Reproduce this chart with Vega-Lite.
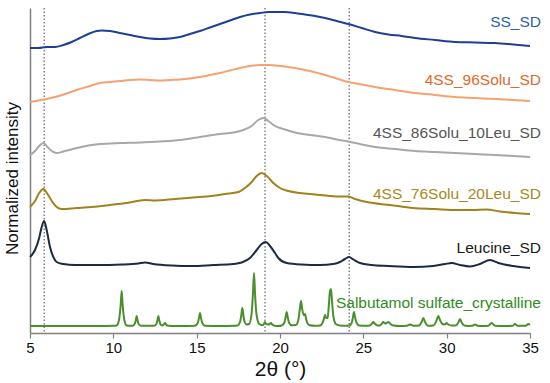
{
  "$schema": "https://vega.github.io/schema/vega-lite/v6.json",
  "autosize": "none",
  "width": 500,
  "height": 325,
  "padding": {"left": 30, "top": 8, "right": 20, "bottom": 50},
  "background": "white",
  "config": {
    "view": {"stroke": null},
    "font": "Liberation Sans",
    "axis": {"grid": false, "labelFont": "Liberation Sans", "titleFont": "Liberation Sans", "titleFontWeight": "normal"}
  },
  "datasets": {
    "curves": [
      {"s": "SS_SD", "t": 5, "v": 285}, {"s": "SS_SD", "t": 5.5, "v": 285}, {"s": "SS_SD", "t": 6, "v": 286}, {"s": "SS_SD", "t": 6.5, "v": 286},
      {"s": "SS_SD", "t": 7, "v": 288}, {"s": "SS_SD", "t": 7.5, "v": 291}, {"s": "SS_SD", "t": 8, "v": 295}, {"s": "SS_SD", "t": 8.5, "v": 299},
      {"s": "SS_SD", "t": 9, "v": 302}, {"s": "SS_SD", "t": 9.3, "v": 302.5}, {"s": "SS_SD", "t": 9.8, "v": 302}, {"s": "SS_SD", "t": 10.4, "v": 300},
      {"s": "SS_SD", "t": 11, "v": 298}, {"s": "SS_SD", "t": 11.6, "v": 296}, {"s": "SS_SD", "t": 12.2, "v": 294.5}, {"s": "SS_SD", "t": 12.8, "v": 294},
      {"s": "SS_SD", "t": 13.4, "v": 294.5}, {"s": "SS_SD", "t": 14, "v": 296}, {"s": "SS_SD", "t": 14.6, "v": 299}, {"s": "SS_SD", "t": 15.2, "v": 302},
      {"s": "SS_SD", "t": 15.8, "v": 305.5}, {"s": "SS_SD", "t": 16.4, "v": 309}, {"s": "SS_SD", "t": 17, "v": 312.5}, {"s": "SS_SD", "t": 17.6, "v": 316},
      {"s": "SS_SD", "t": 18.2, "v": 318.5}, {"s": "SS_SD", "t": 18.8, "v": 320}, {"s": "SS_SD", "t": 19.3, "v": 321}, {"s": "SS_SD", "t": 19.7, "v": 321},
      {"s": "SS_SD", "t": 20.3, "v": 321}, {"s": "SS_SD", "t": 20.9, "v": 320}, {"s": "SS_SD", "t": 21.5, "v": 318.5}, {"s": "SS_SD", "t": 22.1, "v": 317},
      {"s": "SS_SD", "t": 22.7, "v": 315}, {"s": "SS_SD", "t": 23.4, "v": 312}, {"s": "SS_SD", "t": 24.1, "v": 309}, {"s": "SS_SD", "t": 24.9, "v": 305},
      {"s": "SS_SD", "t": 25.7, "v": 301}, {"s": "SS_SD", "t": 26.5, "v": 298.5}, {"s": "SS_SD", "t": 27.3, "v": 297}, {"s": "SS_SD", "t": 28.1, "v": 295},
      {"s": "SS_SD", "t": 29.3, "v": 293}, {"s": "SS_SD", "t": 30.5, "v": 291}, {"s": "SS_SD", "t": 31.7, "v": 290.5}, {"s": "SS_SD", "t": 32.9, "v": 290},
      {"s": "SS_SD", "t": 34, "v": 288.5}, {"s": "SS_SD", "t": 35, "v": 287},

      {"s": "96Solu", "t": 5, "v": 231}, {"s": "96Solu", "t": 5.5, "v": 232.5}, {"s": "96Solu", "t": 6, "v": 234}, {"s": "96Solu", "t": 6.5, "v": 236},
      {"s": "96Solu", "t": 7.2, "v": 239.5}, {"s": "96Solu", "t": 7.8, "v": 243}, {"s": "96Solu", "t": 8.5, "v": 246.5}, {"s": "96Solu", "t": 9.2, "v": 250},
      {"s": "96Solu", "t": 9.8, "v": 251}, {"s": "96Solu", "t": 10.4, "v": 252}, {"s": "96Solu", "t": 11, "v": 253}, {"s": "96Solu", "t": 11.6, "v": 253.5},
      {"s": "96Solu", "t": 12.2, "v": 253}, {"s": "96Solu", "t": 12.8, "v": 252.5}, {"s": "96Solu", "t": 13.4, "v": 253}, {"s": "96Solu", "t": 14, "v": 253.5},
      {"s": "96Solu", "t": 14.6, "v": 254.5}, {"s": "96Solu", "t": 15.2, "v": 256}, {"s": "96Solu", "t": 15.8, "v": 258}, {"s": "96Solu", "t": 16.4, "v": 260},
      {"s": "96Solu", "t": 17, "v": 262.5}, {"s": "96Solu", "t": 17.6, "v": 265}, {"s": "96Solu", "t": 18.2, "v": 267}, {"s": "96Solu", "t": 18.8, "v": 268},
      {"s": "96Solu", "t": 19.3, "v": 268}, {"s": "96Solu", "t": 19.7, "v": 267.5}, {"s": "96Solu", "t": 20.3, "v": 266.5}, {"s": "96Solu", "t": 20.9, "v": 265},
      {"s": "96Solu", "t": 21.8, "v": 262}, {"s": "96Solu", "t": 22.7, "v": 258}, {"s": "96Solu", "t": 23.4, "v": 254.5}, {"s": "96Solu", "t": 24.1, "v": 251},
      {"s": "96Solu", "t": 24.9, "v": 248.5}, {"s": "96Solu", "t": 25.7, "v": 246}, {"s": "96Solu", "t": 26.9, "v": 243}, {"s": "96Solu", "t": 28.1, "v": 240},
      {"s": "96Solu", "t": 29.3, "v": 238}, {"s": "96Solu", "t": 30.5, "v": 236}, {"s": "96Solu", "t": 31.7, "v": 235}, {"s": "96Solu", "t": 32.9, "v": 234},
      {"s": "96Solu", "t": 34, "v": 233}, {"s": "96Solu", "t": 35, "v": 232},

      {"s": "86Solu", "t": 5, "v": 178}, {"s": "86Solu", "t": 5.3, "v": 182}, {"s": "86Solu", "t": 5.55, "v": 187}, {"s": "86Solu", "t": 5.8, "v": 190},
      {"s": "86Solu", "t": 6.05, "v": 186}, {"s": "86Solu", "t": 6.3, "v": 182}, {"s": "86Solu", "t": 6.6, "v": 180}, {"s": "86Solu", "t": 7, "v": 181.5},
      {"s": "86Solu", "t": 7.8, "v": 185}, {"s": "86Solu", "t": 8.5, "v": 187.5}, {"s": "86Solu", "t": 9.2, "v": 189}, {"s": "86Solu", "t": 10.4, "v": 190},
      {"s": "86Solu", "t": 11.6, "v": 190.5}, {"s": "86Solu", "t": 12.8, "v": 191.5}, {"s": "86Solu", "t": 14, "v": 193}, {"s": "86Solu", "t": 15.2, "v": 196},
      {"s": "86Solu", "t": 16.4, "v": 199}, {"s": "86Solu", "t": 17.2, "v": 200.5}, {"s": "86Solu", "t": 17.8, "v": 203}, {"s": "86Solu", "t": 18.3, "v": 207},
      {"s": "86Solu", "t": 18.7, "v": 213}, {"s": "86Solu", "t": 19, "v": 215}, {"s": "86Solu", "t": 19.3, "v": 212}, {"s": "86Solu", "t": 19.7, "v": 207},
      {"s": "86Solu", "t": 20.2, "v": 204}, {"s": "86Solu", "t": 20.9, "v": 200.5}, {"s": "86Solu", "t": 21.8, "v": 198}, {"s": "86Solu", "t": 22.7, "v": 196},
      {"s": "86Solu", "t": 23.4, "v": 193.5}, {"s": "86Solu", "t": 24.1, "v": 191.5}, {"s": "86Solu", "t": 24.9, "v": 188.5}, {"s": "86Solu", "t": 25.7, "v": 186},
      {"s": "86Solu", "t": 26.9, "v": 184}, {"s": "86Solu", "t": 28.1, "v": 182}, {"s": "86Solu", "t": 29.3, "v": 181}, {"s": "86Solu", "t": 30.5, "v": 180},
      {"s": "86Solu", "t": 31.7, "v": 179}, {"s": "86Solu", "t": 32.9, "v": 178}, {"s": "86Solu", "t": 34, "v": 177}, {"s": "86Solu", "t": 35, "v": 176},

      {"s": "76Solu", "t": 5, "v": 126}, {"s": "76Solu", "t": 5.3, "v": 132}, {"s": "76Solu", "t": 5.55, "v": 140}, {"s": "76Solu", "t": 5.8, "v": 144},
      {"s": "76Solu", "t": 6.05, "v": 139}, {"s": "76Solu", "t": 6.35, "v": 131}, {"s": "76Solu", "t": 6.6, "v": 126}, {"s": "76Solu", "t": 6.9, "v": 124},
      {"s": "76Solu", "t": 7.8, "v": 125}, {"s": "76Solu", "t": 8.7, "v": 126}, {"s": "76Solu", "t": 9.8, "v": 128}, {"s": "76Solu", "t": 10.8, "v": 130},
      {"s": "76Solu", "t": 11.9, "v": 133}, {"s": "76Solu", "t": 12.5, "v": 132.5}, {"s": "76Solu", "t": 13.7, "v": 134}, {"s": "76Solu", "t": 14.8, "v": 135.5},
      {"s": "76Solu", "t": 15.9, "v": 137}, {"s": "76Solu", "t": 16.7, "v": 139}, {"s": "76Solu", "t": 17.5, "v": 141}, {"s": "76Solu", "t": 17.9, "v": 145},
      {"s": "76Solu", "t": 18.3, "v": 151}, {"s": "76Solu", "t": 18.6, "v": 157}, {"s": "76Solu", "t": 18.9, "v": 160}, {"s": "76Solu", "t": 19.2, "v": 157},
      {"s": "76Solu", "t": 19.6, "v": 150}, {"s": "76Solu", "t": 20, "v": 145}, {"s": "76Solu", "t": 20.5, "v": 142}, {"s": "76Solu", "t": 21.2, "v": 140},
      {"s": "76Solu", "t": 22.1, "v": 138.5}, {"s": "76Solu", "t": 23, "v": 137}, {"s": "76Solu", "t": 23.7, "v": 136.5}, {"s": "76Solu", "t": 24.1, "v": 136.5},
      {"s": "76Solu", "t": 24.5, "v": 134}, {"s": "76Solu", "t": 25.2, "v": 131}, {"s": "76Solu", "t": 26.6, "v": 128}, {"s": "76Solu", "t": 28, "v": 125},
      {"s": "76Solu", "t": 29.3, "v": 124}, {"s": "76Solu", "t": 30.6, "v": 123}, {"s": "76Solu", "t": 31.5, "v": 123}, {"s": "76Solu", "t": 32.4, "v": 123.5},
      {"s": "76Solu", "t": 33.2, "v": 121.5}, {"s": "76Solu", "t": 34.1, "v": 120}, {"s": "76Solu", "t": 35, "v": 119},

      {"s": "Leu", "t": 5, "v": 76}, {"s": "Leu", "t": 5.3, "v": 83}, {"s": "Leu", "t": 5.55, "v": 95}, {"s": "Leu", "t": 5.7, "v": 106},
      {"s": "Leu", "t": 5.85, "v": 112}, {"s": "Leu", "t": 6, "v": 103}, {"s": "Leu", "t": 6.2, "v": 86}, {"s": "Leu", "t": 6.4, "v": 76},
      {"s": "Leu", "t": 6.6, "v": 71}, {"s": "Leu", "t": 7, "v": 69}, {"s": "Leu", "t": 7.7, "v": 68}, {"s": "Leu", "t": 9, "v": 68},
      {"s": "Leu", "t": 10.5, "v": 68.5}, {"s": "Leu", "t": 11.5, "v": 69.5}, {"s": "Leu", "t": 11.9, "v": 70.5}, {"s": "Leu", "t": 12.4, "v": 69},
      {"s": "Leu", "t": 13.5, "v": 67.5}, {"s": "Leu", "t": 14.7, "v": 67}, {"s": "Leu", "t": 16, "v": 68}, {"s": "Leu", "t": 17.2, "v": 69},
      {"s": "Leu", "t": 17.7, "v": 70.5}, {"s": "Leu", "t": 18.2, "v": 75}, {"s": "Leu", "t": 18.6, "v": 83}, {"s": "Leu", "t": 18.9, "v": 89},
      {"s": "Leu", "t": 19.15, "v": 91}, {"s": "Leu", "t": 19.4, "v": 87}, {"s": "Leu", "t": 19.7, "v": 80}, {"s": "Leu", "t": 19.9, "v": 75},
      {"s": "Leu", "t": 20.4, "v": 70}, {"s": "Leu", "t": 21.3, "v": 68.5}, {"s": "Leu", "t": 22.4, "v": 68}, {"s": "Leu", "t": 23.2, "v": 69},
      {"s": "Leu", "t": 23.6, "v": 71}, {"s": "Leu", "t": 23.9, "v": 74}, {"s": "Leu", "t": 24.15, "v": 76}, {"s": "Leu", "t": 24.4, "v": 73.5},
      {"s": "Leu", "t": 24.8, "v": 70}, {"s": "Leu", "t": 25.5, "v": 68}, {"s": "Leu", "t": 26.5, "v": 67}, {"s": "Leu", "t": 28, "v": 66},
      {"s": "Leu", "t": 29.2, "v": 67}, {"s": "Leu", "t": 29.9, "v": 69}, {"s": "Leu", "t": 30.3, "v": 70}, {"s": "Leu", "t": 30.8, "v": 68},
      {"s": "Leu", "t": 31.4, "v": 66.5}, {"s": "Leu", "t": 32, "v": 69}, {"s": "Leu", "t": 32.6, "v": 73}, {"s": "Leu", "t": 33.1, "v": 70},
      {"s": "Leu", "t": 34, "v": 67}, {"s": "Leu", "t": 35, "v": 65},

      {"s": "Sal", "t": 5, "v": 7}, {"s": "Sal", "t": 9, "v": 7}, {"s": "Sal", "t": 10, "v": 7.2},
      {"s": "Sal", "t": 10.2, "v": 7.5}, {"s": "Sal", "t": 10.35, "v": 14}, {"s": "Sal", "t": 10.44, "v": 28}, {"s": "Sal", "t": 10.5, "v": 42}, {"s": "Sal", "t": 10.56, "v": 28}, {"s": "Sal", "t": 10.65, "v": 14}, {"s": "Sal", "t": 10.8, "v": 7.5},
      {"s": "Sal", "t": 11, "v": 7.2},
      {"s": "Sal", "t": 11.15, "v": 7.3}, {"s": "Sal", "t": 11.28, "v": 9}, {"s": "Sal", "t": 11.35, "v": 13}, {"s": "Sal", "t": 11.4, "v": 17}, {"s": "Sal", "t": 11.45, "v": 13}, {"s": "Sal", "t": 11.52, "v": 9}, {"s": "Sal", "t": 11.65, "v": 7.3},
      {"s": "Sal", "t": 12.1, "v": 7.2},
      {"s": "Sal", "t": 12.45, "v": 7.3}, {"s": "Sal", "t": 12.58, "v": 9}, {"s": "Sal", "t": 12.65, "v": 13}, {"s": "Sal", "t": 12.7, "v": 17}, {"s": "Sal", "t": 12.75, "v": 13}, {"s": "Sal", "t": 12.82, "v": 9}, {"s": "Sal", "t": 12.92, "v": 7.5},
      {"s": "Sal", "t": 12.98, "v": 8}, {"s": "Sal", "t": 13.05, "v": 9}, {"s": "Sal", "t": 13.1, "v": 10}, {"s": "Sal", "t": 13.16, "v": 8.5}, {"s": "Sal", "t": 13.3, "v": 7.2},
      {"s": "Sal", "t": 13.8, "v": 7}, {"s": "Sal", "t": 14.5, "v": 7.1},
      {"s": "Sal", "t": 14.9, "v": 7.3}, {"s": "Sal", "t": 15.05, "v": 9.5}, {"s": "Sal", "t": 15.14, "v": 15}, {"s": "Sal", "t": 15.2, "v": 20}, {"s": "Sal", "t": 15.26, "v": 15}, {"s": "Sal", "t": 15.35, "v": 9.5}, {"s": "Sal", "t": 15.5, "v": 7.3},
      {"s": "Sal", "t": 16.5, "v": 7}, {"s": "Sal", "t": 17.2, "v": 7.2},
      {"s": "Sal", "t": 17.45, "v": 7.5}, {"s": "Sal", "t": 17.6, "v": 11}, {"s": "Sal", "t": 17.68, "v": 18}, {"s": "Sal", "t": 17.74, "v": 25}, {"s": "Sal", "t": 17.8, "v": 18}, {"s": "Sal", "t": 17.88, "v": 11}, {"s": "Sal", "t": 18, "v": 8.5},
      {"s": "Sal", "t": 18.15, "v": 9}, {"s": "Sal", "t": 18.3, "v": 20}, {"s": "Sal", "t": 18.38, "v": 40}, {"s": "Sal", "t": 18.44, "v": 60}, {"s": "Sal", "t": 18.5, "v": 40}, {"s": "Sal", "t": 18.58, "v": 20}, {"s": "Sal", "t": 18.75, "v": 9},
      {"s": "Sal", "t": 18.95, "v": 7.8}, {"s": "Sal", "t": 19.03, "v": 9}, {"s": "Sal", "t": 19.1, "v": 11}, {"s": "Sal", "t": 19.17, "v": 9}, {"s": "Sal", "t": 19.27, "v": 8.5}, {"s": "Sal", "t": 19.38, "v": 9}, {"s": "Sal", "t": 19.46, "v": 10}, {"s": "Sal", "t": 19.53, "v": 8.5}, {"s": "Sal", "t": 19.7, "v": 7.2},
      {"s": "Sal", "t": 19.9, "v": 7},
      {"s": "Sal", "t": 20.1, "v": 7.5}, {"s": "Sal", "t": 20.25, "v": 10}, {"s": "Sal", "t": 20.34, "v": 16}, {"s": "Sal", "t": 20.4, "v": 21}, {"s": "Sal", "t": 20.46, "v": 16}, {"s": "Sal", "t": 20.55, "v": 10}, {"s": "Sal", "t": 20.7, "v": 7.8},
      {"s": "Sal", "t": 20.95, "v": 8}, {"s": "Sal", "t": 21.1, "v": 13}, {"s": "Sal", "t": 21.19, "v": 24}, {"s": "Sal", "t": 21.26, "v": 32}, {"s": "Sal", "t": 21.33, "v": 24}, {"s": "Sal", "t": 21.42, "v": 18}, {"s": "Sal", "t": 21.5, "v": 19}, {"s": "Sal", "t": 21.58, "v": 13}, {"s": "Sal", "t": 21.75, "v": 8},
      {"s": "Sal", "t": 22.1, "v": 7.2},
      {"s": "Sal", "t": 22.4, "v": 7.5}, {"s": "Sal", "t": 22.55, "v": 10}, {"s": "Sal", "t": 22.65, "v": 15}, {"s": "Sal", "t": 22.7, "v": 18}, {"s": "Sal", "t": 22.78, "v": 15}, {"s": "Sal", "t": 22.86, "v": 15}, {"s": "Sal", "t": 22.94, "v": 30}, {"s": "Sal", "t": 23, "v": 42}, {"s": "Sal", "t": 23.06, "v": 44}, {"s": "Sal", "t": 23.12, "v": 32}, {"s": "Sal", "t": 23.2, "v": 17}, {"s": "Sal", "t": 23.35, "v": 9}, {"s": "Sal", "t": 23.6, "v": 7.5},
      {"s": "Sal", "t": 23.9, "v": 7.3},
      {"s": "Sal", "t": 24.15, "v": 7.5}, {"s": "Sal", "t": 24.3, "v": 10}, {"s": "Sal", "t": 24.38, "v": 16}, {"s": "Sal", "t": 24.44, "v": 21}, {"s": "Sal", "t": 24.5, "v": 16}, {"s": "Sal", "t": 24.6, "v": 10}, {"s": "Sal", "t": 24.75, "v": 7.5},
      {"s": "Sal", "t": 25.1, "v": 7.2},
      {"s": "Sal", "t": 25.4, "v": 7.5}, {"s": "Sal", "t": 25.52, "v": 9.5}, {"s": "Sal", "t": 25.6, "v": 11}, {"s": "Sal", "t": 25.68, "v": 9.5}, {"s": "Sal", "t": 25.85, "v": 7.5},
      {"s": "Sal", "t": 26, "v": 7.5}, {"s": "Sal", "t": 26.12, "v": 9.5}, {"s": "Sal", "t": 26.2, "v": 11}, {"s": "Sal", "t": 26.3, "v": 9.5}, {"s": "Sal", "t": 26.4, "v": 10}, {"s": "Sal", "t": 26.5, "v": 11}, {"s": "Sal", "t": 26.6, "v": 9.5}, {"s": "Sal", "t": 26.8, "v": 7.5},
      {"s": "Sal", "t": 27.2, "v": 7},
      {"s": "Sal", "t": 27.6, "v": 7.2}, {"s": "Sal", "t": 27.8, "v": 8.5}, {"s": "Sal", "t": 28, "v": 7.3},
      {"s": "Sal", "t": 28.35, "v": 7.5}, {"s": "Sal", "t": 28.5, "v": 11}, {"s": "Sal", "t": 28.6, "v": 15}, {"s": "Sal", "t": 28.7, "v": 11}, {"s": "Sal", "t": 28.85, "v": 7.5},
      {"s": "Sal", "t": 29, "v": 7.2},
      {"s": "Sal", "t": 29.2, "v": 7.5}, {"s": "Sal", "t": 29.38, "v": 12}, {"s": "Sal", "t": 29.5, "v": 17}, {"s": "Sal", "t": 29.6, "v": 13}, {"s": "Sal", "t": 29.75, "v": 9}, {"s": "Sal", "t": 29.9, "v": 8.5}, {"s": "Sal", "t": 30, "v": 10}, {"s": "Sal", "t": 30.1, "v": 8.5}, {"s": "Sal", "t": 30.3, "v": 7.5},
      {"s": "Sal", "t": 30.55, "v": 7.5}, {"s": "Sal", "t": 30.7, "v": 10.5}, {"s": "Sal", "t": 30.8, "v": 14}, {"s": "Sal", "t": 30.9, "v": 10.5}, {"s": "Sal", "t": 31.05, "v": 7.5},
      {"s": "Sal", "t": 31.3, "v": 7.1},
      {"s": "Sal", "t": 31.55, "v": 7.2}, {"s": "Sal", "t": 31.7, "v": 8.5}, {"s": "Sal", "t": 31.85, "v": 7.2},
      {"s": "Sal", "t": 32.2, "v": 7},
      {"s": "Sal", "t": 32.5, "v": 7.3}, {"s": "Sal", "t": 32.7, "v": 10}, {"s": "Sal", "t": 32.9, "v": 7.3},
      {"s": "Sal", "t": 33.4, "v": 7},
      {"s": "Sal", "t": 33.95, "v": 7.2}, {"s": "Sal", "t": 34.1, "v": 9}, {"s": "Sal", "t": 34.25, "v": 7.2},
      {"s": "Sal", "t": 34.75, "v": 7.2}, {"s": "Sal", "t": 34.9, "v": 9}, {"s": "Sal", "t": 35, "v": 8}
    ],
    "refs": [{"t": 5.85}, {"t": 19.1}, {"t": 24.15}],
    "labels": [
      {"label": "SS_SD", "t": 35.66, "v": 311},
      {"label": "4SS_96Solu_SD", "t": 35.66, "v": 253},
      {"label": "4SS_86Solu_10Leu_SD", "t": 35.66, "v": 200},
      {"label": "4SS_76Solu_20Leu_SD", "t": 35.66, "v": 139},
      {"label": "Leucine_SD", "t": 35.66, "v": 85},
      {"label": "Salbutamol sulfate_crystalline", "t": 35.66, "v": 30}
    ]
  },
  "encoding": {
    "x": {
      "field": "t", "type": "quantitative",
      "scale": {"domain": [5, 35], "nice": false, "zero": false},
      "axis": {
        "title": "2θ (°)", "values": [5, 10, 15, 20, 25, 30, 35],
        "domainColor": "#808080", "domainWidth": 1.5, "tickColor": "#808080", "tickWidth": 1.2, "tickSize": 5,
        "labelFontSize": 15, "labelColor": "#111111", "labelPadding": 2, "labelFlush": false,
        "titleFontSize": 21, "titleColor": "#111111", "titlePadding": 3
      }
    },
    "y": {
      "field": "v", "type": "quantitative",
      "scale": {"domain": [0, 325], "nice": false},
      "axis": {
        "title": "Normalized intensity", "ticks": false, "labels": false,
        "domainColor": "#808080", "domainWidth": 1.5,
        "titleFontSize": 17, "titleColor": "#111111", "titlePadding": 9, "titleY": 170
      }
    }
  },
  "layer": [
    {
      "data": {"name": "refs"},
      "mark": {"type": "rule", "color": "#444444", "strokeWidth": 1, "strokeDash": [1.5, 2]},
      "encoding": {"x": {"field": "t", "type": "quantitative"}, "y": null}
    },
    {
      "data": {"name": "curves"},
      "mark": {"type": "line", "strokeWidth": 2, "interpolate": "monotone"},
      "encoding": {
        "color": {
          "field": "s", "type": "nominal", "legend": null,
          "scale": {
            "domain": ["SS_SD", "96Solu", "86Solu", "76Solu", "Leu", "Sal"],
            "range": ["#1f3f96", "#f5a271", "#a8a8a8", "#a2821a", "#1c2b42", "#4b8e2c"]
          }
        },
        "strokeWidth": {
          "field": "s", "type": "nominal", "legend": null,
          "scale": {
            "domain": ["SS_SD", "96Solu", "86Solu", "76Solu", "Leu", "Sal"],
            "range": [2.2, 2.2, 2.2, 2.2, 2.2, 1.3]
          }
        }
      }
    },
    {
      "data": {"name": "labels"},
      "mark": {"type": "text", "align": "right", "baseline": "middle", "fontSize": 15.5, "font": "Liberation Sans"},
      "encoding": {
        "text": {"field": "label"},
        "color": {
          "field": "label", "type": "nominal", "legend": null,
          "scale": {
            "domain": ["SS_SD", "4SS_96Solu_SD", "4SS_86Solu_10Leu_SD", "4SS_76Solu_20Leu_SD", "Leucine_SD", "Salbutamol sulfate_crystalline"],
            "range": ["#2a5fb5", "#e0692a", "#555555", "#a8881a", "#1a1a1a", "#2f8c22"]
          }
        }
      }
    }
  ],
  "resolve": {"scale": {"color": "independent"}}
}
